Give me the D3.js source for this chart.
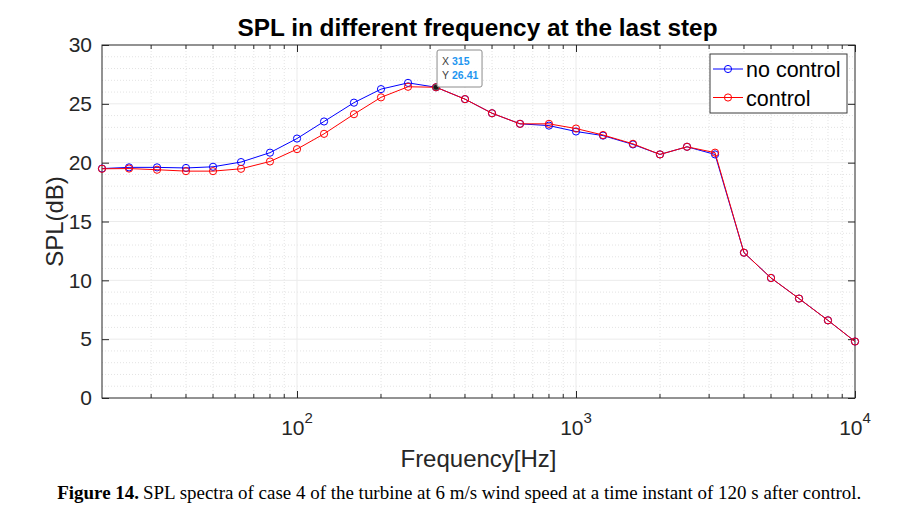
<!DOCTYPE html>
<html><head><meta charset="utf-8">
<script src="https://cdn.jsdelivr.net/npm/d3@7"></script>
<style>body{margin:0;background:#fff}svg{display:block}</style>
</head><body>
<svg id="c" width="906" height="531"></svg>
<script>
const freqs = [20,25,31.5,40,50,63,80,100,125,160,200,250,315,400,500,630,800,1000,1250,1600,2000,2500,3150,4000,5000,6300,8000,10000];
const noControl = [19.5,19.6,19.6,19.55,19.65,20.05,20.85,22.05,23.5,25.1,26.25,26.78,26.41,25.4,24.2,23.3,23.15,22.65,22.3,21.55,20.7,21.35,20.7,12.35,10.2,8.45,6.6,4.8];
const control = [19.48,19.5,19.4,19.28,19.28,19.48,20.1,21.15,22.45,24.12,25.55,26.45,26.41,25.4,24.2,23.3,23.3,22.9,22.35,21.6,20.7,21.35,20.85,12.35,10.2,8.45,6.6,4.8];
const yTicks = [0,5,10,15,20,25,30];
const xMajor = [100,1000,10000];
const seriesNames = ["no control","control"];
const seriesColors = ["#0000ff","#ff0000"];
const titleText = "SPL in different frequency at the last step";
const xLabel = "Frequency[Hz]";
const yLabel = "SPL(dB)";
const tipX = 315, tipY = 26.41;
const captionBold = "Figure 14.";
const captionRest = "SPL spectra of case 4 of the turbine at 6 m/s wind speed at a time instant of 120 s after control.";

const svg = d3.select("#c");
const L=102,R=855,T=45,B=398;
const x = d3.scaleLog().domain([20,10000]).range([L,R]);
const y = d3.scaleLinear().domain([0,30]).range([B,T]);
const axisCol = "#262626";
const font = "'Liberation Sans', Arial, Helvetica, sans-serif";

const xMinor = [];
for (let d=10; d<10000; d*=10) for (let k=2;k<=9;k++){ const v=d*k; if(v>20 && v<10000) xMinor.push(v); }
const yMinor = d3.range(1,30).filter(v=>v%5!==0);

const g = svg.append("g");
g.selectAll(".xmg").data(xMinor).join("line").attr("x1",d=>x(d)).attr("x2",d=>x(d)).attr("y1",T).attr("y2",B)
  .attr("stroke","#e3e3e3").attr("stroke-width",1).attr("stroke-dasharray","1,2");
g.selectAll(".ymg").data(yMinor).join("line").attr("y1",d=>y(d)).attr("y2",d=>y(d)).attr("x1",L).attr("x2",R)
  .attr("stroke","#e3e3e3").attr("stroke-width",1).attr("stroke-dasharray","1,2");
g.selectAll(".xMg").data(xMajor.filter(v=>v<10000)).join("line").attr("x1",d=>x(d)).attr("x2",d=>x(d)).attr("y1",T).attr("y2",B)
  .attr("stroke","#ebebeb").attr("stroke-width",1);
g.selectAll(".yMg").data(yTicks.filter(v=>v>0&&v<30)).join("line").attr("y1",d=>y(d)).attr("y2",d=>y(d)).attr("x1",L).attr("x2",R)
  .attr("stroke","#ebebeb").attr("stroke-width",1);

const axB = d3.axisBottom(x).tickValues(xMajor).tickSize(-7).tickFormat("");
const axT = d3.axisTop(x).tickValues(xMajor).tickSize(-7).tickFormat("");
const axL = d3.axisLeft(y).tickValues(yTicks).tickSize(-7).tickPadding(10).tickFormat(d3.format("d"));
const axR = d3.axisRight(y).tickValues(yTicks).tickSize(-7).tickFormat("");
function style(sel){ sel.selectAll("path").attr("stroke",axisCol); sel.selectAll("line").attr("stroke",axisCol); sel.selectAll("text").attr("fill",axisCol).attr("font-family",font).attr("font-size","21px"); }
svg.append("g").attr("transform",`translate(0,${B})`).call(axB).call(style).call(s=>s.select(".domain").remove());
svg.append("g").attr("transform",`translate(0,${T})`).call(axT).call(style).call(s=>s.select(".domain").remove());
svg.append("g").attr("transform",`translate(${L},0)`).call(axL).call(style).call(s=>s.select(".domain").remove());
svg.append("g").attr("transform",`translate(${R},0)`).call(axR).call(style).call(s=>s.select(".domain").remove());
[B,T].forEach((yy,i)=>{
  svg.append("g").selectAll("line").data(xMinor).join("line").attr("x1",d=>x(d)).attr("x2",d=>x(d))
    .attr("y1",yy).attr("y2",i===0?yy-4:yy+4).attr("stroke",axisCol);
});
svg.append("rect").attr("x",L).attr("y",T).attr("width",R-L).attr("height",B-T).attr("fill","none").attr("stroke",axisCol).attr("stroke-width",1);

xMajor.forEach(v=>{
  const t = svg.append("text").attr("x",x(v)).attr("y",435).attr("text-anchor","middle").attr("fill",axisCol)
    .attr("font-family",font).attr("font-size","21px");
  t.append("tspan").text("10");
  t.append("tspan").attr("dy",-12).attr("font-size","15px").text(String(Math.round(Math.log10(v))));
});

const series=[noControl,control];
const line = d3.line().x((d,i)=>x(freqs[i])).y(d=>y(d));
series.forEach((s,k)=>{
  svg.append("path").datum(s).attr("d",line).attr("fill","none").attr("stroke",seriesColors[k]).attr("stroke-width",1);
  svg.append("g").selectAll("circle").data(s).join("circle").attr("cx",(d,i)=>x(freqs[i])).attr("cy",d=>y(d)).attr("r",3.6)
    .attr("fill","none").attr("stroke",seriesColors[k]).attr("stroke-width",1);
});

svg.append("circle").attr("cx",x(tipX)).attr("cy",y(tipY)).attr("r",2.8).attr("fill","#1a1a1a").attr("stroke","#555").attr("stroke-width",0.8);
const bx=x(tipX)+1, by=50;
svg.append("rect").attr("x",bx).attr("y",by).attr("width",45).attr("height",37).attr("rx",2).attr("fill","#fff").attr("fill-opacity",0.92)
  .attr("stroke","#8c8c8c").attr("stroke-width",1);
[["X",String(tipX)],["Y",tipY.toFixed(2)]].forEach((p,i)=>{
  svg.append("text").attr("x",bx+5).attr("y",by+15+i*14).attr("font-family",font).attr("font-size","10.5px").attr("fill","#404040").text(p[0]);
  svg.append("text").attr("x",bx+15).attr("y",by+15+i*14).attr("font-family",font).attr("font-size","10.5px").attr("font-weight","bold").attr("fill","#1e96f0").text(p[1]);
});

const lg = svg.append("g");
lg.append("rect").attr("x",710).attr("y",54).attr("width",137).attr("height",59).attr("fill","#fff").attr("stroke","#3c3c3c").attr("stroke-width",1);
seriesNames.forEach((n,k)=>{
  const yy = 69 + k*28.5;
  lg.append("line").attr("x1",713).attr("x2",743).attr("y1",yy).attr("y2",yy).attr("stroke",seriesColors[k]).attr("stroke-width",1);
  lg.append("circle").attr("cx",728).attr("cy",yy).attr("r",3.6).attr("fill","none").attr("stroke",seriesColors[k]);
  lg.append("text").attr("x",746).attr("y",yy+8).attr("font-family",font).attr("font-size","21.5px").attr("fill","#000").text(n);
});

const title = svg.append("text").attr("x",477.5).attr("y",36).attr("text-anchor","middle").attr("font-family",font).attr("font-weight","bold")
  .attr("font-size","22px").attr("fill","#000").text(titleText);
const tw = title.node().getComputedTextLength();
title.attr("font-size",(22*480/tw).toFixed(2)+"px");

svg.append("text").attr("x",(L+R)/2).attr("y",467).attr("text-anchor","middle").attr("font-family",font)
  .attr("font-size","24px").attr("fill",axisCol).text(xLabel);
svg.append("text").attr("transform",`translate(63,${(T+B)/2}) rotate(-90)`).attr("text-anchor","middle").attr("font-family",font)
  .attr("font-size","24px").attr("fill",axisCol).text(yLabel);

const serif = "'Liberation Serif','Times New Roman',serif";
const rest = svg.append("text").attr("x",143).attr("y",499).attr("font-family",serif).attr("font-size","17px").attr("fill","#000").text(captionRest);
const rw = rest.node().getComputedTextLength();
const fs = 17*719/rw;
rest.attr("font-size",fs.toFixed(2)+"px");
svg.append("text").attr("x",139).attr("y",499).attr("text-anchor","end").attr("font-family",serif).attr("font-weight","bold")
  .attr("font-size",fs.toFixed(2)+"px").attr("fill","#000").text(captionBold);
</script>
</body></html>
